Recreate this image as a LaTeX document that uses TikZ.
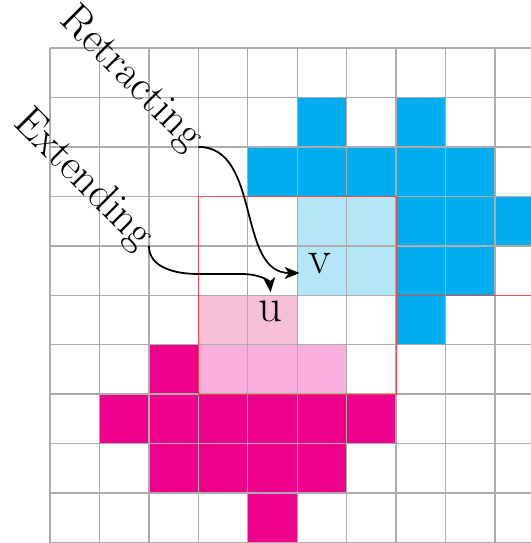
\documentclass[tikz,border=0pt]{standalone}
\usetikzlibrary{arrows.meta, positioning}
\definecolor{cyanblue}{RGB}{0,174,239}
\definecolor{lightcyan}{RGB}{180,230,248}
\definecolor{deepmagenta}{RGB}{236,0,140}
\definecolor{palepink}{RGB}{247,190,216}
\definecolor{softpink}{RGB}{249,174,221}
\definecolor{gridgray}{RGB}{172,172,172}
\definecolor{boxred}{RGB}{240,70,70}

\tikzset{
  cellline/.style={gridgray, line width=0.8pt},
  region/.style={boxred, line width=0.6pt},
  curvearrow/.style={black, line width=1pt, -{Stealth[length=3mm, width=2.4mm, inset=0.8mm]}},
  sidelabel/.style={font=\fontsize{25}{30}\selectfont, anchor=east, rotate=-45, inner sep=2pt},
  vertexlabel/.style={font=\fontsize{27}{32}\selectfont, inner sep=5pt, anchor=base},
}

\begin{document}
\begin{tikzpicture}

  % Bildausschnitt
  \useasboundingbox (-1.011,-10.01) rectangle (9.727,0.971);
  \clip (-1.011,-10.01) rectangle (9.727,0.971);

  % blaue Zellen
  \foreach \c/\r in {5/1,7/1,4/2,5/2,6/2,7/2,8/2,7/3,8/3,9/3,7/4,8/4,7/5}
    \fill[cyanblue] (\c,-\r) rectangle ++(1,-1);
  \foreach \c/\r in {5/3,6/3,5/4,6/4}
    \fill[lightcyan] (\c,-\r) rectangle ++(1,-1);

  % rosa Zellen
  \foreach \c/\r in {3/5,4/5}
    \fill[palepink] (\c,-\r) rectangle ++(1,-1);
  \foreach \c/\r in {3/6,4/6,5/6}
    \fill[softpink] (\c,-\r) rectangle ++(1,-1);
  \foreach \c/\r in {2/6,1/7,2/7,3/7,4/7,5/7,6/7,2/8,3/8,4/8,5/8,4/9}
    \fill[deepmagenta] (\c,-\r) rectangle ++(1,-1);

  % Gitter
  \draw[cellline] (0,-10) grid (10,0);

  % rote Bereiche
  \draw[region] (3,-3) rectangle (7,-7);
  \draw[region] (7,-5) -- (10,-5);

  % Beschriftungen
  \node[vertexlabel] (v) at (5.46,-4.55) {v};
  \node[vertexlabel] (u) at (4.46,-5.54) {u};
  \node[sidelabel] (retract) at (3,-2) {Retracting};
  \node[sidelabel] (extend) at (2,-4) {Extending};

  % Pfeile
  \draw[curvearrow] (retract.east) to[out=0, in=180] (v.base west);
  \draw[curvearrow] (extend.east) to[out=-90, in=180] ++(1,-0.57)
    -- ++(0.9,0) to[out=0, in=95] (u.north);

\end{tikzpicture}
\end{document}
